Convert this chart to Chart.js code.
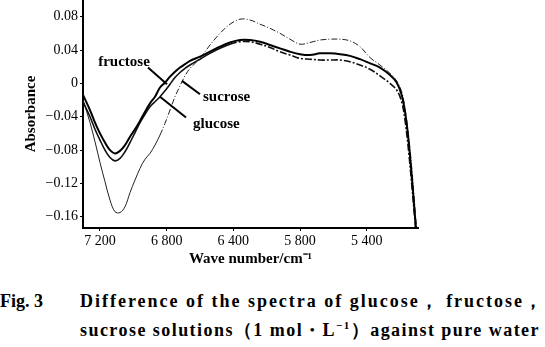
<!DOCTYPE html>
<html>
<head>
<meta charset="utf-8">
<script src="https://cdn.jsdelivr.net/npm/chart.js@4.4.1/dist/chart.umd.min.js"></script>
<style>
  body { margin: 0; background: #fff; }
  #wrap { position: relative; width: 545px; height: 347px; }
  .cap { position: absolute; font-family: "Liberation Serif", serif; font-weight: bold; font-size: 18px; line-height: 20px; color: #000; white-space: nowrap; }
</style>
</head>
<body>
<div id="wrap">
  <canvas id="specChart" width="545" height="270"></canvas>
  <div class="cap" style="left:0; top:291px;">Fig. 3</div>
  <div class="cap fit" data-w="464" style="left:80px; top:291px;">Difference of the spectra of glucose， fructose，</div>
  <div class="cap fit" data-w="460" style="left:80px; top:320px;">sucrose solutions（1 mol・L<sup style="font-size:11px;line-height:0">−1</sup>）against pure water</div>
</div>
<script>
// wave number, cm-1 (axis is drawn evenly, 400 per division)
const waveNumbers = [7302, 7260, 7230, 7200, 7170, 7140, 7110, 7080, 7050, 7020, 6990, 6960, 6930, 6900, 6870, 6840, 6810, 6780, 6750, 6720, 6690, 6660, 6600, 6540, 6480, 6420, 6360, 6300, 6240, 6180, 6120, 6060, 6000, 5940, 5880, 5820, 5760, 5700, 5640, 5580, 5520, 5460, 5420, 5390, 5370, 5350, 5330, 5310, 5290];

const fructose = [-0.014, -0.032, -0.047, -0.060, -0.071, -0.080, -0.084, -0.081, -0.074, -0.064, -0.055, -0.045, -0.034, -0.024, -0.016, -0.005, 0.001, 0.008, 0.014, 0.019, 0.023, 0.027, 0.032, 0.038, 0.044, 0.049, 0.052, 0.052, 0.050, 0.046, 0.042, 0.038, 0.035, 0.034, 0.036, 0.036, 0.035, 0.033, 0.029, 0.024, 0.019, 0.010, 0.001, -0.014, -0.034, -0.066, -0.110, -0.160, -0.210];

const glucose = [-0.022, -0.040, -0.055, -0.068, -0.080, -0.089, -0.093, -0.090, -0.082, -0.071, -0.059, -0.047, -0.037, -0.028, -0.022, -0.016, -0.009, -0.001, 0.007, 0.013, 0.018, 0.022, 0.029, 0.036, 0.042, 0.047, 0.050, 0.050, 0.047, 0.043, 0.038, 0.034, 0.030, 0.029, 0.028, 0.028, 0.028, 0.026, 0.022, 0.017, 0.009, 0.000, -0.008, -0.022, -0.044, -0.078, -0.120, -0.165, -0.210];

const sucrose = [-0.020, -0.047, -0.070, -0.095, -0.118, -0.140, -0.154, -0.155, -0.148, -0.131, -0.116, -0.102, -0.091, -0.084, -0.074, -0.062, -0.048, -0.032, -0.016, -0.003, 0.009, 0.018, 0.030, 0.046, 0.060, 0.071, 0.077, 0.076, 0.071, 0.066, 0.060, 0.053, 0.047, 0.049, 0.052, 0.053, 0.053, 0.051, 0.044, 0.031, 0.022, 0.012, 0.003, -0.010, -0.030, -0.060, -0.100, -0.150, -0.200];

const xTickValues = [7200, 6800, 6400, 6000, 5600];
const xTickLabels = ['7 200', '6 800', '6 400', '5 800', '5 400'];
const yTickValues = [0.08, 0.04, 0, -0.04, -0.08, -0.12, -0.16];
const yTickLabels = ['0.08', '0.04', '0', '−0.04', '−0.08', '−0.12', '−0.16'];

// label text, label anchor [wn, A], pointer from [wn, A] to [wn, A]
const notes = [
  { text: 'fructose', at: [7056, 0.026], align: 'center', from: [6912, 0.019], to: [6798, -0.001] },
  { text: 'sucrose', at: [6582, -0.016], align: 'left', from: [6600, -0.013], to: [6708, 0.003] },
  { text: 'glucose', at: [6642, -0.049], align: 'left', from: [6684, -0.041], to: [6840, -0.016] }
];

const toPoints = vals => waveNumbers.map((x, i) => ({ x: x, y: vals[i] }));
const serif = '"Liberation Serif", "Times New Roman", serif';

// spread caption lines to their printed width
document.querySelectorAll('.fit').forEach(el => {
  const n = el.textContent.length;
  const extra = (+el.dataset.w - el.getBoundingClientRect().width) / n;
  el.style.letterSpacing = extra + 'px';
});

const notePlugin = {
  id: 'notes',
  afterDatasetsDraw(chart) {
    const c = chart.ctx, sx = chart.scales.x, sy = chart.scales.y;
    c.save();
    c.fillStyle = '#000';
    c.strokeStyle = '#000';
    c.lineWidth = 2;
    c.font = 'bold 15px ' + serif;
    c.textBaseline = 'middle';
    notes.forEach(n => {
      c.beginPath();
      c.moveTo(sx.getPixelForValue(n.from[0]), sy.getPixelForValue(n.from[1]));
      c.lineTo(sx.getPixelForValue(n.to[0]), sy.getPixelForValue(n.to[1]));
      c.stroke();
      c.textAlign = n.align;
      c.fillText(n.text, sx.getPixelForValue(n.at[0]), sy.getPixelForValue(n.at[1]));
    });
    c.restore();
  }
};

new Chart(document.getElementById('specChart').getContext('2d'), {
  type: 'line',
  data: {
    datasets: [
      { label: 'fructose', data: toPoints(fructose), borderColor: '#000', borderWidth: 2, pointRadius: 0, tension: 0.35 },
      {
        label: 'glucose', data: toPoints(glucose), borderColor: '#111', borderWidth: 1.6, pointRadius: 0, tension: 0.35,
        segment: { borderDash: s => s.p0.parsed.x < 6450 ? [7, 2, 2, 2] : undefined }
      },
      {
        label: 'sucrose', data: toPoints(sucrose), borderColor: '#222', borderWidth: 1, pointRadius: 0, tension: 0.35,
        segment: { borderDash: s => s.p0.parsed.x < 6860 ? [6, 2, 1, 2] : undefined }
      }
    ]
  },
  options: {
    responsive: false,
    animation: false,
    devicePixelRatio: 1,
    layout: { padding: { left: 0, right: 127, top: 0, bottom: 0 } },
    plugins: { legend: { display: false }, tooltip: { enabled: false } },
    scales: {
      x: {
        type: 'linear',
        reverse: true,
        min: 5292,
        max: 7302,
        border: { color: '#000', width: 2 },
        grid: { drawOnChartArea: false, drawTicks: true, tickLength: 3, color: '#000' },
        afterBuildTicks: s => { s.ticks = xTickValues.map(v => ({ value: v })); },
        afterFit: s => { s.height = 42; s.paddingLeft = 0; s.paddingRight = 0; },
        ticks: {
          color: '#000', padding: 2, maxRotation: 0, autoSkip: false,
          font: { family: serif, size: 14 },
          callback: (v, i) => xTickLabels[i]
        },
        title: {
          display: true, text: 'Wave number/cm⁻¹', color: '#000',
          font: { family: serif, size: 15, weight: 'bold' },
          padding: { top: 0, bottom: 2 }
        }
      },
      y: {
        min: -0.1735,
        max: 0.1,
        border: { color: '#000', width: 2 },
        grid: { drawOnChartArea: false, drawTicks: true, tickLength: 3, color: '#000' },
        afterBuildTicks: s => { s.ticks = yTickValues.map(v => ({ value: v })); },
        afterFit: s => { s.width = 83; s.paddingTop = 0; s.paddingBottom = 0; },
        ticks: {
          color: '#000', padding: 2,
          font: { family: serif, size: 14 },
          callback: (v, i) => yTickLabels[i]
        },
        title: {
          display: true, text: 'Absorbance', color: '#000',
          font: { family: serif, size: 15, weight: 'bold' },
          padding: { top: 22, bottom: 0 }
        }
      }
    }
  },
  plugins: [notePlugin]
});
</script>
</body>
</html>
